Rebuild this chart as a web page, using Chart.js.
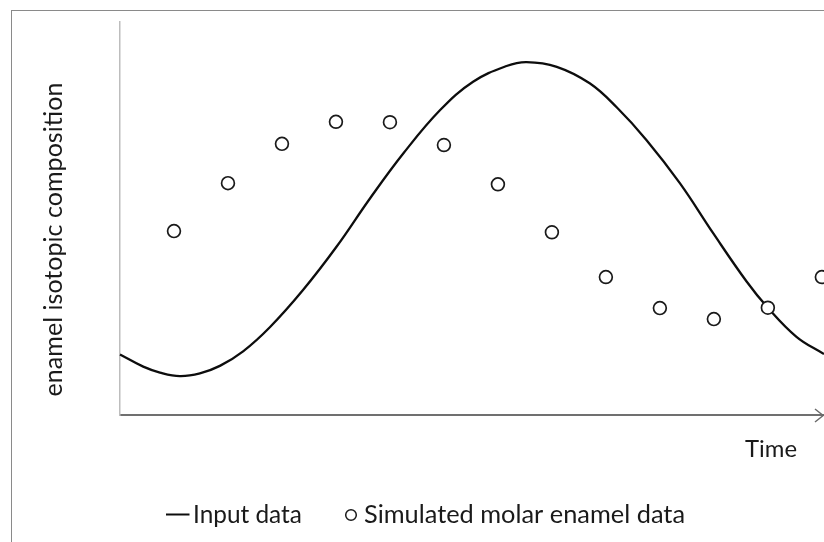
<!DOCTYPE html>
<html>
<head>
<meta charset="utf-8">
<script src="https://cdn.jsdelivr.net/npm/chart.js@4/dist/chart.umd.min.js"></script>
<style>
  html, body { margin: 0; padding: 0; background: #ffffff; }
  #wrap { width: 824px; height: 542px; position: relative; }
</style>
</head>
<body>
<div id="wrap"><canvas id="chart" width="824" height="542"></canvas></div>
<script>
// Input signal (time, isotopic value)
const curveTime  = [0, 0.43, 0.74, 1.11, 1.48, 1.85, 2.28, 2.78, 3.39, 4.01, 4.63, 5.25, 5.93,
                    6.54, 7.16, 7.53, 8.09, 8.70, 9.20, 9.75, 10.37, 10.99, 11.61, 11.98, 12.53, 13.04];
const curveValue = [1.54, 1.23, 1.08, 0.99, 1.06, 1.25, 1.62, 2.24, 3.18, 4.28, 5.51, 6.66, 7.76,
                    8.48, 8.88, 8.98, 8.86, 8.44, 7.83, 7.00, 5.90, 4.62, 3.39, 2.76, 1.99, 1.55];

// Simulated molar enamel samples
const sampleTime  = [1, 2, 3, 4, 5, 6, 7, 8, 9, 10, 11, 12, 13];
const sampleValue = [4.68, 5.90, 6.90, 7.46, 7.45, 6.87, 5.87, 4.65, 3.51, 2.72, 2.44, 2.73, 3.51];

const seriesNames = ['Input data', 'Simulated molar enamel data'];
const yAxisTitle = 'enamel isotopic composition';
const xAxisTitle = 'Time';

const FONT_FAMILY = 'Lato, "Open Sans", sans-serif';
const TEXT_COLOR = '#1a1a1a';

// Font size that makes a string span a given width
function fittedFont(ctx, text, width) {
  ctx.font = '100px ' + FONT_FAMILY;
  const size = 100 * width / ctx.measureText(text).width;
  return size.toFixed(2) + 'px ' + FONT_FAMILY;
}

const decorations = {
  id: 'decorations',
  beforeDraw(chart) {
    const ctx = chart.ctx;
    ctx.save();
    ctx.fillStyle = '#ffffff';
    ctx.fillRect(0, 0, chart.width, chart.height);
    ctx.strokeStyle = '#8a8a8a';
    ctx.lineWidth = 1;
    ctx.strokeRect(11.5, 10.5, chart.width + 20, chart.height + 20);
    ctx.restore();
  },
  afterDraw(chart) {
    const ctx = chart.ctx;
    const area = chart.chartArea;
    ctx.save();

    // arrow head at the end of the time axis
    ctx.strokeStyle = '#6a6a6a';
    ctx.lineWidth = 1.5;
    ctx.beginPath();
    ctx.moveTo(area.right - 9, area.bottom - 6);
    ctx.lineTo(area.right - 0.8, area.bottom + 0.5);
    ctx.lineTo(area.right - 9, area.bottom + 7);
    ctx.stroke();

    ctx.fillStyle = TEXT_COLOR;
    ctx.textBaseline = 'alphabetic';

    // y axis title
    ctx.save();
    ctx.translate(62, 239.5);
    ctx.rotate(-Math.PI / 2);
    ctx.textAlign = 'center';
    ctx.font = fittedFont(ctx, yAxisTitle, 314);
    ctx.fillText(yAxisTitle, 0, 0);
    ctx.restore();

    // x axis title
    ctx.textAlign = 'left';
    ctx.font = fittedFont(ctx, xAxisTitle, 52);
    ctx.fillText(xAxisTitle, 745, 456.5);

    // legend
    const lineDs = chart.data.datasets[1];
    const dotDs = chart.data.datasets[0];
    ctx.strokeStyle = lineDs.borderColor;
    ctx.lineWidth = 2;
    ctx.beginPath();
    ctx.moveTo(166, 514.5);
    ctx.lineTo(189.5, 514.5);
    ctx.stroke();
    ctx.font = fittedFont(ctx, lineDs.label, 109);
    ctx.fillText(lineDs.label, 193, 523);

    ctx.strokeStyle = dotDs.borderColor;
    ctx.fillStyle = '#ffffff';
    ctx.lineWidth = 1.5;
    ctx.beginPath();
    ctx.arc(351, 515, 5.3, 0, Math.PI * 2);
    ctx.fill();
    ctx.stroke();
    ctx.fillStyle = TEXT_COLOR;
    ctx.font = fittedFont(ctx, dotDs.label, 321);
    ctx.fillText(dotDs.label, 364, 523);

    ctx.restore();
  }
};

new Chart(document.getElementById('chart'), {
  type: 'scatter',
  data: {
    datasets: [
      {
        label: seriesNames[1],
        data: sampleTime.map((t, i) => ({ x: t, y: sampleValue[i] })),
        pointRadius: 6.4,
        pointHoverRadius: 6.4,
        pointBackgroundColor: '#ffffff',
        pointBorderColor: '#1a1a1a',
        pointBorderWidth: 1.7,
        borderColor: '#1a1a1a',
        showLine: false,
        order: 0,
        clip: false
      },
      {
        label: seriesNames[0],
        data: curveTime.map((t, i) => ({ x: t, y: curveValue[i] })),
        showLine: true,
        borderColor: '#0d0d0d',
        borderWidth: 2.3,
        pointRadius: 0,
        tension: 0.4,
        order: 1,
        clip: false
      }
    ]
  },
  options: {
    responsive: false,
    animation: false,
    devicePixelRatio: 1,
    layout: { autoPadding: false, padding: { left: 120, right: 0, top: 22, bottom: 127 } },
    plugins: { legend: { display: false }, tooltip: { enabled: false } },
    scales: {
      x: {
        type: 'linear',
        min: 0,
        max: 13.04,
        grid: { display: false },
        ticks: { display: false },
        border: { display: true, color: '#707070', width: 2 },
        afterFit: s => { s.height = 0; }
      },
      y: {
        type: 'linear',
        min: 0,
        max: 10,
        grid: { display: false },
        ticks: { display: false },
        border: { display: true, color: '#bdbdbd', width: 1.5 },
        afterFit: s => { s.width = 0; }
      }
    }
  },
  plugins: [decorations]
});
</script>
</body>
</html>
